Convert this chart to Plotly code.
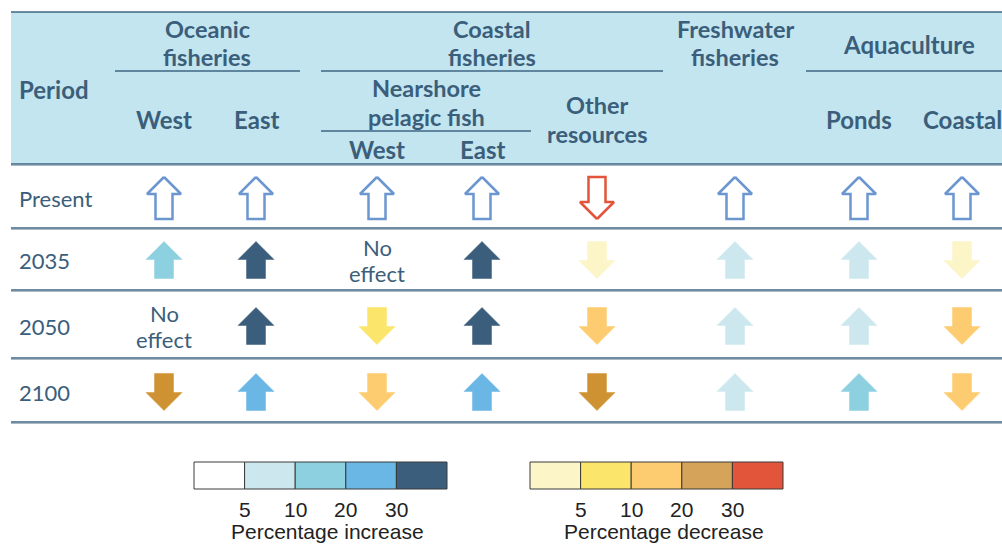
import plotly.graph_objects as go

# ---------------- data ----------------
periods = ["Present", "2035", "2050", "2100"]
column_keys = ["oce_w", "oce_e", "nps_w", "nps_e", "other", "fresh", "ponds", "aq_coast"]

# direction of projected change per period and column ("none" = no effect)
directions = {
    "Present": ["up", "up", "up", "up", "down", "up", "up", "up"],
    "2035":    ["up", "up", "none", "up", "down", "up", "up", "down"],
    "2050":    ["none", "up", "down", "up", "down", "up", "up", "down"],
    "2100":    ["down", "up", "down", "up", "down", "up", "up", "down"],
}
# class of change (index into the legend classes); None for present trend / no effect
levels = {
    "Present": [None] * 8,
    "2035":    [2, 4, None, 4, 0, 1, 1, 0],
    "2050":    [None, 4, 1, 4, 2, 1, 1, 2],
    "2100":    [3, 3, 2, 3, 3, 1, 2, 2],
}

increase_colors = ["#FFFFFF", "#CCE8EE", "#8DD0DF", "#6AB6E4", "#3B5E7C"]
decrease_colors = ["#FCF5C8", "#FBE56A", "#FECC70", "#D5A45A", "#E3553A"]
decrease_arrow_colors = ["#FCF5C8", "#FBE56A", "#FECC70", "#CF9233", "#E3553A"]
legend_ticks = ["5", "10", "20", "30"]
legend_titles = ["Percentage increase", "Percentage decrease"]

# ---------------- layout constants ----------------
W, H = 1002, 544
TXT = "#3B5E7B"
HEAD_FONT = "Lato"
col_x = [164, 256, 377, 482, 597, 735, 859, 962]
row_y = [198, 260, 326, 392]
row_lines = [164, 228, 290, 358, 422]

fig = go.Figure()
shapes = []
annotations = []

# header background
shapes.append(dict(type="rect", x0=11, x1=W, y0=12, y1=164, fillcolor="#C2E5F0",
                   line=dict(width=0), layer="below"))
shapes.append(dict(type="line", x0=11, x1=W, y0=12, y1=12, line=dict(color="#3F6483", width=1.5)))
for yl in row_lines:
    shapes.append(dict(type="line", x0=11, x1=W, y0=yl + 1.5, y1=yl + 1.5, line=dict(color="#A9B9C6", width=1)))
    shapes.append(dict(type="line", x0=11, x1=W, y0=yl, y1=yl, line=dict(color="#3F6483", width=1.5)))
# group underlines
for x0, x1, yl in [(115, 300, 71), (321, 663, 71), (321, 531, 131), (806, W, 71)]:
    shapes.append(dict(type="line", x0=x0, x1=x1, y0=yl, y1=yl, line=dict(color="#3F6483", width=1.5)))


def txt(x, y, s, bold=True, size=24, anchor="center", color=TXT, family=HEAD_FONT):
    annotations.append(dict(x=x, y=y, xref="x", yref="y", text=s, showarrow=False,
                            xanchor=anchor, yanchor="middle",
                            font=dict(family=family, size=size, color=color,
                                      weight="bold" if bold else "normal")))


def txt2(x, ymid, a, b, size=23.5, gap=14.25):
    txt(x, ymid - gap, a, size=size)
    txt(x, ymid + gap, b, size=size)


# header texts
txt(17, 89, "Period", anchor="left")
txt2(207, 43, "Oceanic", "fisheries")
txt(164, 119, "West"); txt(256, 119, "East")
txt2(492, 43, "Coastal", "fisheries")
txt2(426, 102.5, "Nearshore", "pelagic fish")
txt(377, 149, "West"); txt(482, 149, "East")
txt2(597, 119.5, "Other", "resources")
txt2(735, 43, "Freshwater", "fisheries")
txt(909, 44, "Aquaculture")
txt(859, 119, "Ponds"); txt(962, 119, "Coastal")

# row labels
for p, y in zip(periods, row_y):
    txt(17, y, p, bold=False, size=22, anchor="left")


def arrow_xy(cx, cy, d, w, h, hh, sw):
    top, bot = cy - h / 2, cy + h / 2
    if d == "up":
        xs = [cx, cx + w / 2, cx + sw / 2, cx + sw / 2, cx - sw / 2, cx - sw / 2, cx - w / 2, cx]
        ys = [top, top + hh, top + hh, bot, bot, top + hh, top + hh, top]
    else:
        xs = [cx, cx + w / 2, cx + sw / 2, cx + sw / 2, cx - sw / 2, cx - sw / 2, cx - w / 2, cx]
        ys = [bot, bot - hh, bot - hh, top, top, bot - hh, bot - hh, bot]
    return xs, ys


for ri, p in enumerate(periods):
    for ci, key in enumerate(column_keys):
        d = directions[p][ci]
        lv = levels[p][ci]
        cx, cy = col_x[ci], row_y[ri]
        if d == "none":
            txt(cx, cy - 13, "No", bold=False, size=22)
            txt(cx, cy + 13, "effect", bold=False, size=22)
            continue
        if p == "Present":
            xs, ys = arrow_xy(cx, cy, d, 34, 42, 17, 17)
            lc = "#6B96CF" if d == "up" else "#E3553A"
            fig.add_trace(go.Scatter(x=xs, y=ys, mode="lines", fill="toself", fillcolor="#FFFFFF",
                                     line=dict(color=lc, width=2.5), hoverinfo="skip",
                                     showlegend=False))
        else:
            xs, ys = arrow_xy(cx, cy, d, 36, 37, 18, 19)
            fc = increase_colors[lv] if d == "up" else decrease_arrow_colors[lv]
            fig.add_trace(go.Scatter(x=xs, y=ys, mode="lines", fill="toself", fillcolor=fc,
                                     line=dict(color=fc, width=0.5), hoverinfo="skip",
                                     showlegend=False))

# legends
for lx0, cols, title in [(194, increase_colors, legend_titles[0]), (530, decrease_colors, legend_titles[1])]:
    bw = 253 / len(cols)
    for i, c in enumerate(cols):
        shapes.append(dict(type="rect", x0=lx0 + i * bw, x1=lx0 + (i + 1) * bw, y0=462, y1=489,
                           fillcolor=c, line=dict(color="#3A3A3A", width=1)))
    for i, t in enumerate(legend_ticks):
        txt(lx0 + (i + 1) * bw, 509, t, bold=False, size=21, color="#222222", family="Liberation Sans")
    txt(lx0 + 253 / 2 + 7, 531, title, bold=False, size=21, color="#222222", family="Liberation Sans")

fig.update_layout(
    width=W, height=H, margin=dict(l=0, r=0, t=0, b=0),
    paper_bgcolor="#FFFFFF", plot_bgcolor="#FFFFFF",
    xaxis=dict(range=[0, W], visible=False, fixedrange=True),
    yaxis=dict(range=[H, 0], visible=False, fixedrange=True),
    shapes=shapes, annotations=annotations, showlegend=False,
)
fig.write_html("out.html", config={"displayModeBar": False},
               post_script="document.body.style.margin='0';document.body.style.overflow='hidden';")
